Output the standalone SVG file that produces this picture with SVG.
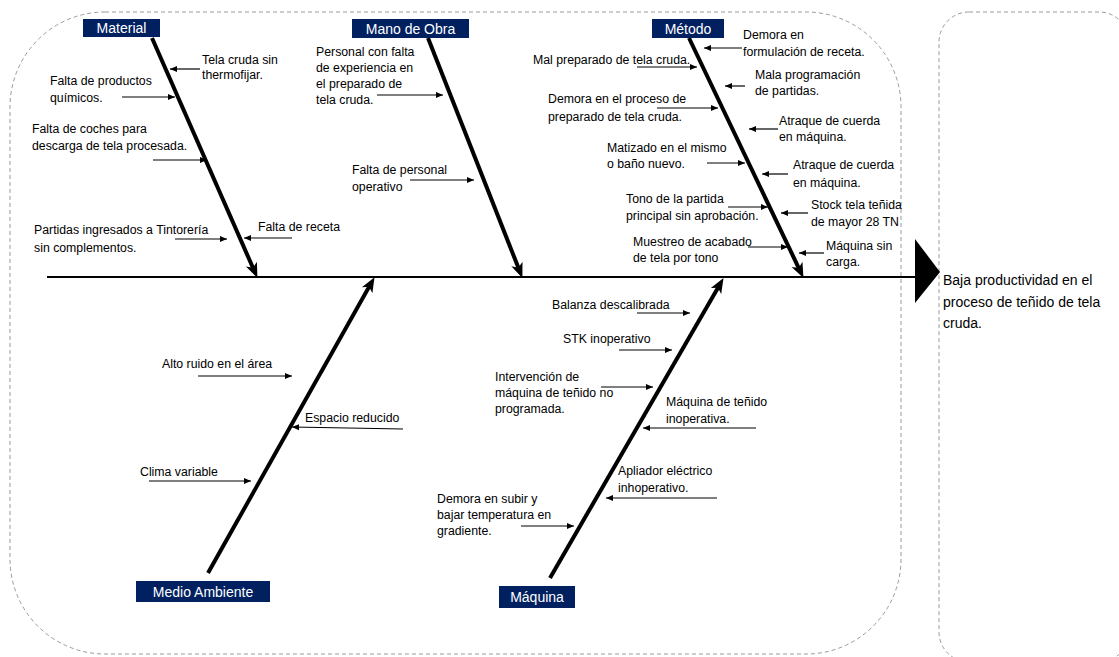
<svg xmlns="http://www.w3.org/2000/svg" width="1119" height="657" viewBox="0 0 1119 657">
<style>
.frame{fill:none;stroke:#9a9a9a;stroke-width:1;stroke-dasharray:4 3}
.t{font-family:"Liberation Sans",Arial,sans-serif;font-size:12.3px;fill:#000}
.lblbox{fill:#002060}
.lbl{font-family:"Liberation Sans",Arial,sans-serif;font-size:14px;fill:#fff;text-anchor:middle}
.title{font-family:"Liberation Sans",Arial,sans-serif;font-size:14px;fill:#000}
.bone{stroke:#000;stroke-width:4;fill:none;marker-end:url(#big)}
.sub{stroke:#000;stroke-width:1.2;fill:none;marker-end:url(#small)}
</style>
<defs>
<marker id="big" markerUnits="userSpaceOnUse" markerWidth="16" markerHeight="14" refX="6" refY="6" orient="auto" viewBox="0 0 16 12">
<path d="M0,0 L15,6 L0,12 L4,6 z" fill="#000"/>
</marker>
<marker id="small" markerUnits="userSpaceOnUse" markerWidth="8" markerHeight="7" refX="7" refY="3" orient="auto" viewBox="0 0 8 6">
<path d="M0,0 L7,3 L0,6 z" fill="#000"/>
</marker>
</defs>
<rect width="1119" height="657" fill="#fff"/>
<g id="frames">
<rect class="frame" x="10" y="12" width="891" height="642" rx="95" ry="95"/>
<rect class="frame" x="939" y="12" width="190" height="650" rx="30" ry="30"/>
</g>
<g id="connectors">
<line x1="47" y1="277" x2="916" y2="277" stroke="#000" stroke-width="2"/>
<line class="bone" x1="152" y1="38" x2="253.8" y2="269.7"/>
<line class="bone" x1="428" y1="38" x2="519.1" y2="269.6"/>
<line class="bone" x1="689" y1="38" x2="799.6" y2="269.8"/>
<line class="bone" x1="208" y1="573" x2="370.1" y2="285"/>
<line class="bone" x1="550" y1="578" x2="719" y2="285.9"/>
<!-- Material -->
<line class="sub" x1="200" y1="69" x2="170" y2="69"/>
<line class="sub" x1="122" y1="97" x2="175" y2="97"/>
<line class="sub" x1="153" y1="160" x2="207" y2="160"/>
<line class="sub" x1="175" y1="239" x2="227" y2="239"/>
<line class="sub" x1="292" y1="238" x2="244" y2="238"/>
<!-- Mano de Obra -->
<line class="sub" x1="377" y1="95" x2="443" y2="95"/>
<line class="sub" x1="410" y1="180" x2="474" y2="180"/>
<!-- Metodo -->
<line class="sub" x1="742" y1="48" x2="704" y2="48"/>
<line class="sub" x1="637" y1="67" x2="697" y2="67"/>
<line class="sub" x1="745" y1="86" x2="725" y2="86"/>
<line class="sub" x1="657" y1="108" x2="718" y2="108"/>
<line class="sub" x1="778" y1="129" x2="749" y2="129"/>
<line class="sub" x1="707" y1="163" x2="745" y2="163"/>
<line class="sub" x1="788" y1="174" x2="762" y2="174"/>
<line class="sub" x1="728" y1="207" x2="768" y2="207"/>
<line class="sub" x1="808" y1="213" x2="781" y2="213"/>
<line class="sub" x1="748" y1="247" x2="788" y2="247"/>
<line class="sub" x1="824" y1="253" x2="799" y2="253"/>
<!-- Medio Ambiente -->
<line class="sub" x1="198" y1="376" x2="292" y2="376"/>
<line class="sub" x1="403" y1="429" x2="292" y2="427"/>
<line class="sub" x1="149" y1="481" x2="251" y2="481"/>
<!-- Maquina -->
<line class="sub" x1="637" y1="313" x2="690" y2="313"/>
<line class="sub" x1="619" y1="350" x2="672" y2="350"/>
<line class="sub" x1="601" y1="387" x2="653" y2="387"/>
<line class="sub" x1="756" y1="428" x2="643" y2="428"/>
<line class="sub" x1="717" y1="498" x2="606" y2="498"/>
<line class="sub" x1="521" y1="526" x2="574" y2="526"/>
</g>
<g id="effect">
<polygon points="915,239 940,272 915,303" fill="#000"/>
<text class="title"><tspan x="943" y="285">Baja productividad en el</tspan><tspan x="943" y="307">proceso de teñido de tela</tspan><tspan x="943" y="328">cruda.</tspan></text>
</g>
<g id="material">
<rect class="lblbox" x="83" y="19" width="77" height="18"/>
<text class="lbl" x="121.5" y="33">Material</text>
<text class="t"><tspan x="202" y="64">Tela cruda sin</tspan><tspan x="202" y="79">thermofijar.</tspan></text>
<text class="t"><tspan x="50" y="85">Falta de productos</tspan><tspan x="50" y="102">químicos.</tspan></text>
<text class="t"><tspan x="32" y="133">Falta de coches para</tspan><tspan x="32" y="150">descarga de tela procesada.</tspan></text>
<text class="t"><tspan x="34" y="234">Partidas ingresados a Tintorería</tspan><tspan x="34" y="252">sin complementos.</tspan></text>
<text class="t" x="258" y="231">Falta de receta</text>
</g>
<g id="mano-de-obra">
<rect class="lblbox" x="352" y="19" width="117" height="19"/>
<text class="lbl" x="410.5" y="33.5">Mano de Obra</text>
<text class="t"><tspan x="316" y="56">Personal con falta</tspan><tspan x="316" y="72">de experiencia en</tspan><tspan x="316" y="88">el preparado de</tspan><tspan x="316" y="104">tela cruda.</tspan></text>
<text class="t"><tspan x="352" y="174">Falta de personal</tspan><tspan x="352" y="191">operativo</tspan></text>
</g>
<g id="metodo">
<rect class="lblbox" x="652" y="19" width="72" height="19"/>
<text class="lbl" x="688" y="33.5">Método</text>
<text class="t"><tspan x="743" y="39">Demora  en</tspan><tspan x="743" y="56">formulación de receta.</tspan></text>
<text class="t" x="533" y="64">Mal preparado de tela cruda.</text>
<text class="t"><tspan x="755" y="79">Mala programación</tspan><tspan x="755" y="95">de partidas.</tspan></text>
<text class="t"><tspan x="548" y="103">Demora  en el proceso de</tspan><tspan x="548" y="121">preparado de tela cruda.</tspan></text>
<text class="t"><tspan x="779" y="125">Atraque de cuerda</tspan><tspan x="779" y="141">en máquina.</tspan></text>
<text class="t"><tspan x="607" y="152">Matizado en el mismo</tspan><tspan x="607" y="168">o baño nuevo.</tspan></text>
<text class="t"><tspan x="793" y="169">Atraque de cuerda</tspan><tspan x="793" y="187">en máquina.</tspan></text>
<text class="t"><tspan x="626" y="203">Tono de la partida</tspan><tspan x="626" y="220">principal sin aprobación.</tspan></text>
<text class="t"><tspan x="811" y="209">Stock tela teñida</tspan><tspan x="811" y="226">de mayor 28 TN</tspan></text>
<text class="t"><tspan x="633" y="246">Muestreo de acabado</tspan><tspan x="633" y="262">de tela por tono</tspan></text>
<text class="t"><tspan x="826" y="250">Máquina sin</tspan><tspan x="826" y="266">carga.</tspan></text>
</g>
<g id="medio-ambiente">
<rect class="lblbox" x="136" y="581" width="134" height="21"/>
<text class="lbl" x="203" y="596.5">Medio Ambiente</text>
<text class="t" x="162" y="368">Alto ruido en el área</text>
<text class="t" x="305" y="422">Espacio reducido</text>
<text class="t" x="140" y="476">Clima variable</text>
</g>
<g id="maquina">
<rect class="lblbox" x="499" y="586" width="76" height="22"/>
<text class="lbl" x="537" y="602">Máquina</text>
<text class="t" x="552" y="309">Balanza descalibrada</text>
<text class="t" x="563" y="343">STK inoperativo</text>
<text class="t"><tspan x="495" y="381">Intervención de</tspan><tspan x="495" y="397">máquina de teñido no</tspan><tspan x="495" y="413">programada.</tspan></text>
<text class="t"><tspan x="666" y="406">Máquina de teñido</tspan><tspan x="666" y="423">inoperativa.</tspan></text>
<text class="t"><tspan x="618" y="475">Apliador eléctrico</tspan><tspan x="618" y="492">inhoperativo.</tspan></text>
<text class="t"><tspan x="437" y="503">Demora  en subir y</tspan><tspan x="437" y="519">bajar temperatura en</tspan><tspan x="437" y="535">gradiente.</tspan></text>
</g>
</svg>
